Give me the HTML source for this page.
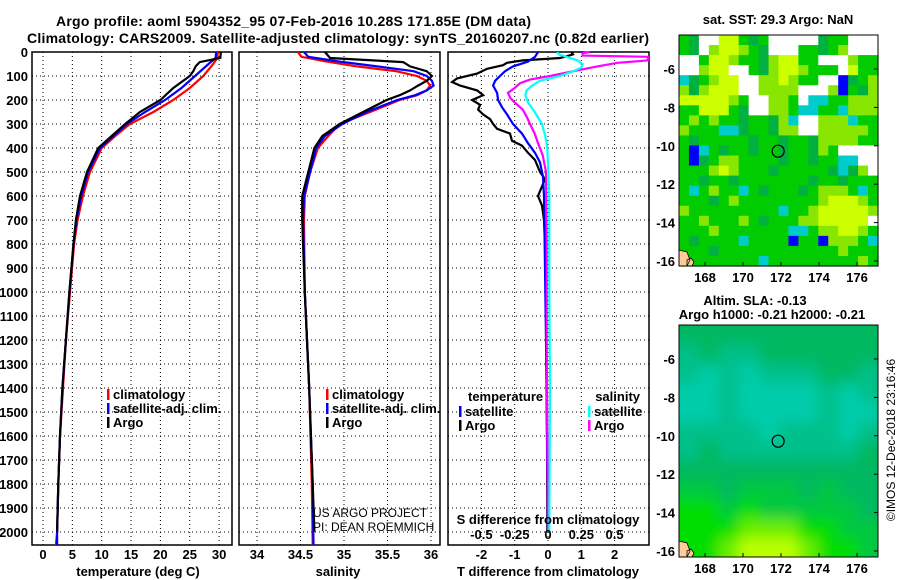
<!DOCTYPE html>
<html><head><meta charset="utf-8"><style>
body{margin:0;background:#fff;}
svg{display:block;font-family:"Liberation Sans",Arial,sans-serif;}
.t{font-weight:bold;font-size:13px;fill:#000;}
.b{font-weight:bold;font-size:14px;fill:#000;}
.n{font-size:12px;fill:#000;}
</style></head><body>
<svg id="fig" width="900" height="580" viewBox="0 0 900 580" xmlns="http://www.w3.org/2000/svg">
<rect width="900" height="580" fill="#fff"/>
<text class="b" x="56" y="26" textLength="475">Argo profile: aoml 5904352_95 07-Feb-2016 10.28S 171.85E (DM data)</text>
<text class="b" x="27" y="43" textLength="622">Climatology: CARS2009. Satellite-adjusted climatology: synTS_20160207.nc (0.82d earlier)</text>
<g id="g"></g>
</svg>
<script>
// ---- data ----
var depthsA=[0,25,42,60,80,100,150,200,250,300,350,400,500,600,700,800,1000,1200,1400,1600,1800,2000];
var tempArgo=[30.3,30.2,26.7,26,25.6,25,22.2,20,16.5,14,11.7,9.4,7.5,6.3,5.6,5.2,4.5,3.9,3.3,2.9,2.6,2.4];
var depthsC=[0,25,50,100,150,200,250,300,350,400,500,600,700,800,1000,1200,1400,1600,1800,2000,2054];
var tempClim=[29.8,29.7,29,27.3,25,22.2,18.8,14.8,12.3,10,8,6.8,5.9,5.3,4.6,3.9,3.4,2.9,2.6,2.4,2.2];
var tempSat=[29.5,29.4,28.2,25.9,23.6,20.8,17.4,14.3,12,9.7,7.7,6.5,5.7,5.2,4.5,3.9,3.3,2.9,2.6,2.4,2.4];
var sdA=[0,25,42,60,80,100,120,140,160,180,200,250,300,350,400,500,600,700,1000,1400,1800,2000];
var salArgo=[34.78,34.84,35.68,35.76,35.95,36.01,35.95,35.85,35.76,35.64,35.49,35.22,34.95,34.75,34.66,34.59,34.52,34.52,34.55,34.6,34.64,34.66];
var sdC=[0,20,40,60,80,100,120,140,160,180,200,250,300,350,400,500,600,700,1000,1400,1800,2054];
var salClim=[34.47,34.51,34.8,35.15,35.6,35.84,35.95,35.99,35.95,35.84,35.64,35.3,34.95,34.82,34.7,34.61,34.55,34.54,34.55,34.6,34.63,34.64];
var salSat=[34.54,34.59,34.95,35.38,35.8,35.95,36.01,36.03,35.95,35.82,35.61,35.26,34.98,34.78,34.68,34.61,34.54,34.53,34.55,34.6,34.64,34.65];
var dTd=[0,10,25,35,45,55,70,90,110,125,140,160,180,200,220,240,260,280,300,320,340,370,390,420,450,500,530,560,600,640,700,900,1200,1600,2000];
var dTArgo=[0.7,0.75,0.36,-0.75,-1.23,-1.35,-1.83,-2.13,-2.73,-2.88,-2.64,-2.13,-1.95,-2.28,-2.04,-2.1,-1.95,-1.74,-1.65,-1.53,-1.14,-1.08,-0.78,-0.6,-0.39,-0.24,-0.09,-0.18,-0.3,-0.18,-0.12,-0.06,-0.05,-0.03,-0.02];
var dSd=[0,20,40,60,80,100,120,140,170,200,230,260,300,340,380,420,460,520,600,900,1200,1600,2000];
var dTSat=[-0.3,-0.39,-0.6,-1.05,-1.29,-1.44,-1.59,-1.65,-1.53,-1.5,-1.38,-1.23,-1.05,-0.78,-0.6,-0.39,-0.24,-0.15,-0.12,-0.09,-0.06,-0.03,0];
var dMd=[0,5,15,20,35,45,60,80,100,115,130,150,170,190,210,240,270,300,340,380,430,500,800,1200,1600,2000];
var dSArgo=[0.315,0.26,0.26,0.8,0.8,0.52,0.37,0.19,0.015,-0.135,-0.21,-0.25,-0.3,-0.285,-0.25,-0.19,-0.16,-0.135,-0.1,-0.075,-0.04,-0.015,-0.01,-0.01,-0.005,0];
var dCd=[0,10,20,35,50,65,80,100,120,140,160,180,210,250,300,350,400,600,1000,1400,2000];
var dSSat=[0.07,0.08,0.14,0.22,0.26,0.25,0.19,0.09,-0.06,-0.12,-0.16,-0.17,-0.15,-0.1,-0.045,-0.02,-0.005,0.01,0.01,0.015,0.01];
var depthTicks=[0,100,200,300,400,500,600,700,800,900,1000,1100,1200,1300,1400,1500,1600,1700,1800,1900,2000];
var tTicks=[0,5,10,15,20,25,30];
var sTicks=[34,34.5,35,35.5,36];
var dTTicks=[-2,-1,0,1,2];
var dSTicks=[-0.5,-0.25,0,0.25,0.5];
var lonTicks=[168,170,172,174,176];
var latTicks=[-6,-8,-10,-12,-14,-16];
var argoLon=171.85, argoLat=-10.28;
var sstRows=["GgWWYYGgGWWWWWgGGWWW","GgWLYYLGgWWWGGgGLWWW","WWGYYLGGgLYYGGWWWLGG","WWLYYWWGgLYYLGGGWYGG","CgGLYYWWLLYLGGWWBgGL","LgLYYYWWLLLLWWWLBGgL","YYYYYLGWWLLGWCCGGLLL","GGYYYGgWWLLGCCGGCLLL","GLGLGGgGGgLCWWLLLCGG","LGGGCCgGGgLLWWLLLLLG","GgGGGGGgGGgGGgLLLLGG","GBCGgGGgGGgGGgLGWWWW","GBgGLLGGGGgGGgGGCCWW","GGGLYLGGGgGGGGGgCgLW","GGgGGgGGGGGGGgGGgGGG","GCGLGGCGgGGGgGLLLGCG","GGGgGLGGGGGGGGLYYYLG","LGGGGGGGGGCGGLYYYYYL","GGLGGGLGgGGGLLYYYYYW","GGGLGGGGGGGCCGLLYYLG","GgGGGGCGGGGBGGBLLLGC","GGGgGGGGGGGGGGGGLGGG","GGGGGGGGCGGGGGGGGGLG"];
var slaRows=["MMMMMMMMMM","tMttMMMMMM","tTtTtttMMt","TTtTTTTtTt","TTtTTTTtTT","ttttTtttTt","tMtttttttM","MMMMMMMMMM","NNMNNNMNMM","GGNGNNNNNM","GGGLLLGGNN","GGLYYYLGGN"];
var sstPal={G:"#00cc00",g:"#00b040",L:"#88e600",Y:"#ccff00",C:"#00cccc",B:"#0000ff",W:"#ffffff"};
var slaPal={M:"#00b860",t:"#00c08a",T:"#00ccaa",N:"#00c840",G:"#00dd00",L:"#66ee00",Y:"#bbff00"};

// ---- helpers ----
var NS="http://www.w3.org/2000/svg", G=document.getElementById("g");
function el(tag,at,txt){var e=document.createElementNS(NS,tag);for(var k in at)e.setAttribute(k,at[k]);if(txt!==undefined)e.textContent=txt;G.appendChild(e);return e;}
var top0=52, ppm=0.24;
function yD(d){return top0+d*ppm;}
function xT(v){return 43+v*5.87;}
function xS(v){return 257+(v-34)*87;}
function xDT(v){return 548+v*33.3;}
function xDS(v){return 548+v*133.2;}
function xLon(v){return 705+(v-168)*19;}
function yLat1(v){return 69+(-6-v)*19.2;}
function yLat2(v){return 359+(-6-v)*19.2;}

function panel(x0,x1,name,ticks,fx){
  var b=el("rect",{x:x0,y:top0,width:x1-x0,height:545-top0,fill:"none",stroke:"#000","stroke-width":1.5});
  
  
  depthTicks.forEach(function(d){var l=el("line",{x1:x0,x2:x1,y1:yD(d),y2:yD(d),stroke:"#000","stroke-dasharray":"1,3"});
    
    });
  ticks.forEach(function(t){var l=el("line",{x1:fx(t),x2:fx(t),y1:top0,y2:545,stroke:"#000","stroke-dasharray":"1,3"});
    
    });
}
function line(xs,ds,fx,col,name,clip){
  var p=xs.map(function(v,i){var x=fx(v);if(clip)x=Math.max(clip[0],Math.min(clip[1],x));return x.toFixed(1)+","+yD(ds[i]).toFixed(1);}).join(" ");
  var e=el("polyline",{points:p,fill:"none",stroke:col,"stroke-width":2.2});
  
  
}
function txt(x,y,s,cls,anchor,name){var e=el("text",{x:x,y:y,"class":cls,"text-anchor":anchor||"start"},s);
  
  return e;}

// panel 1
panel(32,232,"temperature-panel",tTicks,xT);
line(tempClim,depthsC,xT,"#ff0000","climatology-temperature-line");
line(tempSat,depthsC,xT,"#0000ff","satellite-temperature-line");
line(tempArgo,depthsA,xT,"#000000","argo-temperature-line");
depthTicks.forEach(function(d){txt(28,yD(d)+5,String(d),"t","end","depth-tick-label");});
tTicks.forEach(function(t){txt(xT(t),559,String(t),"t","middle","temperature-tick-label");});
txt(138,576,"temperature (deg C)","t","middle","temperature-axis-title");
// panel 2
panel(239,440,"salinity-panel",sTicks,xS);
line(salClim,sdC,xS,"#ff0000","climatology-salinity-line");
line(salSat,sdC,xS,"#0000ff","satellite-salinity-line");
line(salArgo,sdA,xS,"#000000","argo-salinity-line");
sTicks.forEach(function(t){txt(xS(t),559,String(t),"t","middle","salinity-tick-label");});
txt(338,576,"salinity","t","middle","salinity-axis-title");
// panel 3
panel(448,649,"difference-panel",dTTicks,xDT);
line(dTArgo,dTd,xDT,"#000000","argo-temperature-diff-line",[449,648]);
line(dTSat,dSd,xDT,"#0000ff","satellite-temperature-diff-line",[449,648]);
line(dSArgo,dMd,xDS,"#ff00ff","argo-salinity-diff-line",[449,648]);
line(dSSat,dCd,xDS,"#00ffff","satellite-salinity-diff-line",[449,648]);
dTTicks.forEach(function(t){txt(xDT(t),559,String(t),"t","middle","t-diff-tick-label");});
dSTicks.forEach(function(t){txt(xDS(t),539,String(t),"t","middle","s-diff-tick-label");});
txt(548,576,"T difference from climatology","t","middle","t-diff-axis-title");
txt(548,524,"S difference from climatology","t","middle","s-diff-axis-title");

// legends
function leg(x,y,col,s,name){var m=el("rect",{x:x,y:y-9,width:2.5,height:11,fill:col});
  
  
  txt(x+6,y+1,s,"t","start",name);}
leg(107,398,"#ff0000","climatology","legend-climatology");
leg(107,412,"#0000ff","satellite-adj. clim.","legend-satellite");
leg(107,426,"#000000","Argo","legend-argo");
leg(326,398,"#ff0000","climatology","legend2-climatology");
leg(326,412,"#0000ff","satellite-adj. clim.","legend2-satellite");
leg(326,426,"#000000","Argo","legend2-argo");
txt(468,401,"temperature","t","start","legend3-temperature-heading");
leg(459,415,"#0000ff","satellite","legend3-t-satellite");
leg(459,429,"#000000","Argo","legend3-t-argo");
txt(640,401,"salinity","t","end","legend3-salinity-heading");
leg(588,415,"#00ffff","satellite","legend3-s-satellite");
leg(588,429,"#ff00ff","Argo","legend3-s-argo");
txt(313,517,"US ARGO PROJECT","n","start","project-credit");
txt(313,531,"PI: DEAN ROEMMICH","n","start","pi-credit");

// maps
function map(y0,y1,rows,pal,fyLat,name,blur){
  var cols=rows[0].length, cw=199/cols, rh=(y1-y0)/rows.length;
  var outer=document.createElementNS(NS,"g");G.appendChild(outer);
  var grp=document.createElementNS(NS,"g");outer.appendChild(grp);
  if(blur){outer.setAttribute("clip-path","url(#cp)");grp.setAttribute("filter","url(#bl)");}
  rows.forEach(function(r,i){for(var j=0;j<cols;j++){var c=document.createElementNS(NS,"rect");
    var x=679+j*cw, y=y0+i*rh, w=cw+0.6, h=rh+0.6;
    if(blur){if(j===0){x-=20;w+=20;} if(j===cols-1){w+=20;} if(i===0){y-=20;h+=20;} if(i===rows.length-1){h+=20;}}
    c.setAttribute("x",x.toFixed(2));c.setAttribute("y",y.toFixed(2));
    c.setAttribute("width",w.toFixed(2));c.setAttribute("height",h.toFixed(2));c.setAttribute("fill",pal[r[j]]);
    
    
    grp.appendChild(c);}});
  var land=el("path",{d:"M679 "+(y1-16)+" l8 2 l3 8 l-3 6 l-8 0 z M687 "+(y1-6)+" l4 -2 l3 4 l-2 4 l-5 0 z",fill:"#ffcc99",stroke:"#000","stroke-width":0.8});
  
  
  var fr=el("rect",{x:679,y:y0,width:199,height:y1-y0,fill:"none",stroke:"#000","stroke-width":1});
  
  
  lonTicks.forEach(function(v){txt(xLon(v),y1+16,String(v),"t","middle",name+'-lon-label');
    var a=el("line",{x1:xLon(v),x2:xLon(v),y1:y1,y2:y1-4,stroke:"#000"});});
  latTicks.forEach(function(v){txt(675,fyLat(v)+5,String(v),"t","end",name+'-lat-label');
    var a=el("line",{x1:878,x2:874,y1:fyLat(v),y2:fyLat(v),stroke:"#000"});});
  var c=el("circle",{cx:xLon(argoLon),cy:fyLat(argoLat),r:6,fill:"none",stroke:"#000","stroke-width":1.2});
  
  
}
var defs=document.createElementNS(NS,"defs");defs.innerHTML='<filter id="bl" x="-0.2" y="-0.2" width="1.4" height="1.4"><feGaussianBlur stdDeviation="7" edgeMode="duplicate"/></filter><clipPath id="cp"><rect x="679" y="325" width="199" height="232"/></clipPath>';
document.getElementById("fig").insertBefore(defs,document.getElementById("g"));
map(35,266,sstRows,sstPal,yLat1,"sst-map",false);
map(325,557,slaRows,slaPal,yLat2,"sla-map",true);
txt(778,24,"sat. SST: 29.3 Argo: NaN","t","middle","sst-map-title");
txt(755,305,"Altim. SLA: -0.13","t","middle","sla-map-title");
txt(772,319,"Argo h1000: -0.21 h2000: -0.21","t","middle","argo-height-title");
var im=txt(0,0,"©IMOS 12-Dec-2018 23:16:46","n","middle","imos-timestamp");
im.setAttribute("transform","translate(895,440) rotate(-90)");
im.setAttribute("font-size","13");
</script>
</body></html>
